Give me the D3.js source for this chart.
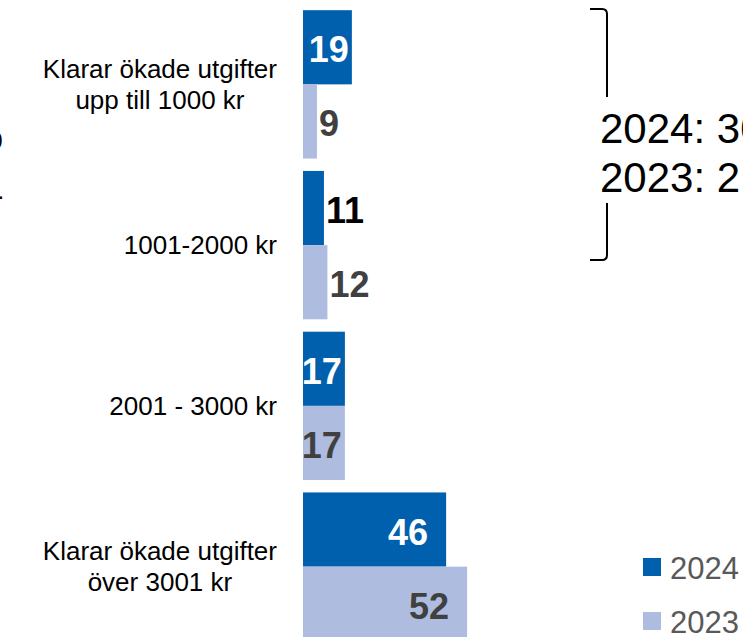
<!DOCTYPE html>
<html>
<head>
<meta charset="utf-8">
<script src="https://cdn.jsdelivr.net/npm/d3@7"></script>
<style>
  body { margin: 0; background: #fff; }
  svg { display: block; }
</style>
</head>
<body>
<div id="chart"></div>
<script>
// data
const categories = ["Klarar ökade utgifter\nupp till 1000 kr", "1001-2000 kr", "2001 - 3000 kr", "Klarar ökade utgifter\növer 3001 kr"];
const years = ["2024", "2023"];
const values2024 = [19, 11, 17, 46];
const values2023 = [9, 12, 17, 52];
const colors = { "2024": "#0060AE", "2023": "#AEBDDF" };

var width = 743,
  height = 637;

var svg = d3.select("#chart").append("svg")
  .attr("width", width)
  .attr("height", height);

var rows = categories.map((c, i) => ({ cat: c, values: { "2024": values2024[i], "2023": values2023[i] } }));

// axis starts at 5 in the original chart
var x = d3.scaleLinear()
  .domain([5, 60])
  .range([303, 495]);

var y = d3.scaleBand()
  .domain(categories)
  .range([4, 647])
  .paddingInner(0.077)
  .paddingOuter(0.0385);

var ySub = d3.scaleBand()
  .domain(years)
  .range([0, y.bandwidth()]);

var groups = svg.append("g").selectAll("g")
  .data(rows)
  .enter().append("g")
  .attr("transform", d => "translate(0," + y(d.cat) + ")");

var bars = groups.selectAll("g.bar")
  .data(d => years.map(k => ({ year: k, value: d.values[k] })))
  .enter().append("g")
  .attr("class", "bar");

bars.append("rect")
  .attr("x", x(5))
  .attr("y", d => ySub(d.year))
  .attr("width", d => x(d.value) - x(5))
  .attr("height", ySub.bandwidth())
  .attr("fill", d => colors[d.year]);

bars.append("text")
  .attr("x", d => {
    if (d.value >= 40) return x(d.value) - 18;
    if (d.value >= 17) return x(d.value) - 3;
    return x(d.value) + 2;
  })
  .attr("y", d => ySub(d.year) + ySub.bandwidth() / 2 + 15)
  .attr("text-anchor", d => d.value >= 17 ? "end" : "start")
  .attr("font-family", "Liberation Sans, Arial, sans-serif")
  .attr("font-weight", "bold")
  .attr("font-size", 36)
  .attr("fill", d => {
    if (d.year === "2023") return "#404040";
    return d.value >= 17 ? "#fff" : "#000";
  })
  .text(d => d.value);

// category labels: block right aligned, lines centred inside it
groups.each(function(d) {
  var lines = d.cat.split("\n");
  var t = d3.select(this).append("text")
    .attr("font-family", "Liberation Sans, Arial, sans-serif")
    .attr("font-size", 26)
    .attr("fill", "#000")
    .attr("text-anchor", "middle");
  var mid = y.bandwidth() / 2;
  t.selectAll("tspan")
    .data(lines)
    .enter().append("tspan")
    .attr("y", (l, i) => mid + (i - (lines.length - 1) / 2) * 31 + 9)
    .text(l => l);
  var maxW = 0;
  t.selectAll("tspan").each(function() {
    maxW = Math.max(maxW, this.getComputedTextLength());
  });
  t.selectAll("tspan").attr("x", 277 - maxW / 2);
});

// bracket with totals for the two lowest groups
var total2024 = values2024[0] + values2024[1];
var total2023 = values2023[0] + values2023[1];

var p = d3.path();
p.moveTo(590, 9);
p.lineTo(602, 9);
p.quadraticCurveTo(607, 9, 607, 14);
p.lineTo(607, 97);
p.moveTo(607, 203);
p.lineTo(607, 255);
p.quadraticCurveTo(607, 260, 602, 260);
p.lineTo(590, 260);

svg.append("path")
  .attr("d", p.toString())
  .attr("fill", "none")
  .attr("stroke", "#000")
  .attr("stroke-width", 2);

svg.append("g")
  .selectAll("text")
  .data([years[0] + ": " + total2024 + "%", years[1] + ": " + total2023 + "%"])
  .enter().append("text")
  .attr("x", 600)
  .attr("y", (d, i) => 143 + i * 49)
  .attr("font-family", "Liberation Sans, Arial, sans-serif")
  .attr("font-size", 42)
  .attr("fill", "#000")
  .text(d => d);

// legend
var legend = svg.append("g")
  .selectAll("g")
  .data(years)
  .enter().append("g")
  .attr("transform", (d, i) => "translate(643," + (558 + i * 54) + ")");

legend.append("rect")
  .attr("width", 18)
  .attr("height", 18)
  .attr("fill", d => colors[d]);

legend.append("text")
  .attr("x", 27)
  .attr("y", 21)
  .attr("font-family", "Liberation Sans, Arial, sans-serif")
  .attr("font-size", 31)
  .attr("fill", "#595959")
  .text(d => d);

// cut-off bits of text at the left edge
svg.append("text")
  .attr("x", 2.5)
  .attr("y", 149)
  .attr("text-anchor", "end")
  .attr("font-family", "Liberation Sans, Arial, sans-serif")
  .attr("font-size", 24)
  .text("0");

svg.append("text")
  .attr("x", -2.5)
  .attr("y", 199)
  .attr("font-family", "Liberation Sans, Arial, sans-serif")
  .attr("font-size", 24)
  .text(".");
</script>
</body>
</html>
